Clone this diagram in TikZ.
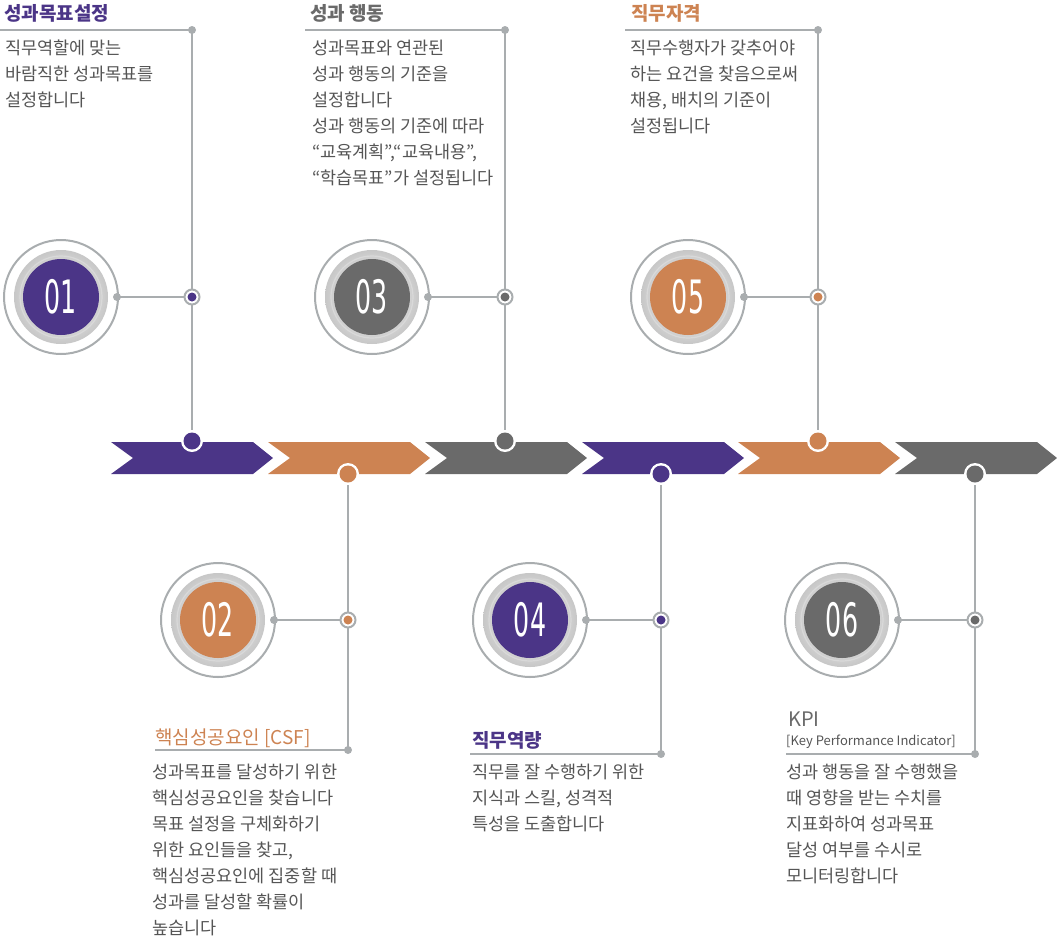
\documentclass[tikz,border=0pt]{standalone}
\usepackage{fontspec}
\setmainfont{Noto Sans CJK KR}
\newfontfamily\numfont{DejaVu Sans}
\definecolor{pur}{HTML}{4B3587}
\definecolor{ora}{HTML}{CD8352}
\definecolor{gry}{HTML}{6A6A6A}
\definecolor{lin}{HTML}{A9ADAF}
\definecolor{txt}{HTML}{555555}
\newcommand\milestone[5]{%
  \draw[lin,line width=2pt,fill=white] (#2,#3) circle (57);
  \shade[inner color=white,outer color=black!22] (#2,#3) circle (47);
  \draw[white!85!black,line width=1.2pt] (#2,#3) circle (41);
  \node[num,fill=#4] (#1) at (#2,#3) {\scalebox{0.55}[1]{#5}};
  \fill[lin] (#2+56,#3) circle (4);
  \coordinate (#1e) at (#2+56,#3);
}
\begin{document}
\begin{tikzpicture}[x=1pt,y=-1pt,
  conn/.style={draw=lin,line width=2.2pt},
  body/.style={anchor=north west,align=left,inner sep=0,text=txt,font=\fontsize{17.5}{26}\selectfont},
  ttl/.style={anchor=west,inner sep=0,font=\fontsize{19}{22}\selectfont\bfseries},
  num/.style={circle,minimum size=76pt,inner sep=0,text=white,font=\numfont\fontsize{46}{46}\selectfont},
]
\useasboundingbox (0,0) rectangle (1057,946);
\foreach \x/\c in {111/pur,268/ora,425/gry,582/pur,738/ora,895/gry}
  \fill[\c] (\x,442) -- ++(142,0) -- ++(20,16) -- ++(-20,16) -- ++(-142,0) -- ++(22,-16) -- cycle;
\milestone{m1}{61}{297}{pur}{01}
\milestone{m3}{372}{297}{gry}{03}
\milestone{m5}{688}{297}{ora}{05}
\milestone{m2}{218}{620}{ora}{02}
\milestone{m4}{530}{620}{pur}{04}
\milestone{m6}{842}{620}{gry}{06}
\foreach \n/\x/\y in {r1/192/297,r3/505/297,r5/818/297,r2/348/620,r4/661/620,r6/975/620}
  \coordinate (\n) at (\x,\y);
\coordinate (b1) at (192,441); \coordinate (b3) at (505,441); \coordinate (b5) at (818,441);
\coordinate (b2) at (348,474); \coordinate (b4) at (661,474); \coordinate (b6) at (975,474);
\coordinate (h1) at (0,30); \coordinate (t1) at (192,30);
\coordinate (h3) at (305,30); \coordinate (t3) at (505,30);
\coordinate (h5) at (625,30); \coordinate (t5) at (818,30);
\coordinate (h2) at (155,750); \coordinate (t2) at (348,750);
\coordinate (h4) at (470,754); \coordinate (t4) at (661,754);
\coordinate (h6) at (786,754); \coordinate (t6) at (975,754);
\foreach \i in {1,...,6}{
  \draw[conn] (h\i) -- (t\i) -- (b\i);
  \draw[conn] (m\i e) -- (r\i);
  \fill[lin] (t\i) circle (4);
}
\foreach \i/\c in {1/pur,3/gry,5/ora,2/ora,4/pur,6/gry}{
  \draw[lin,line width=2pt,fill=white] (r\i) circle (7.5);
  \fill[\c] (r\i) circle (4.5);
  \fill[white] (b\i) circle (11);
  \fill[\c] (b\i) circle (8.5);
}
\node[ttl,text=pur] (T1) at (4,13) {성과목표설정};
\node[body] (B1) at (5,40) {직무역할에 맞는\\바람직한 성과목표를\\설정합니다};
\node[ttl,text=gry] (T3) at (310,13) {성과 행동};
\node[body] (B3) at (312,40) {성과목표와 연관된\\성과 행동의 기준을\\설정합니다\\성과 행동의 기준에 따라\\“교육계획”,“교육내용”,\\“학습목표”가 설정됩니다};
\node[ttl,text=ora] (T5) at (631,13) {직무자격};
\node[body] (B5) at (630,40) {직무수행자가 갖추어야\\하는 요건을 찾음으로써\\채용, 배치의 기준이\\설정됩니다};
\node[ttl,text=ora,font=\fontsize{19}{22}\selectfont] (T2) at (155,738) {핵심성공요인 [CSF]};
\node[body] (B2) at (152,764) {성과목표를 달성하기 위한\\핵심성공요인을 찾습니다\\목표 설정을 구체화하기\\위한 요인들을 찾고,\\핵심성공요인에 집중할 때\\성과를 달성할 확률이\\높습니다};
\node[ttl,text=pur] (T4) at (472,740) {직무역량};
\node[body] (B4) at (472,764) {직무를 잘 수행하기 위한\\지식과 스킬, 성격적\\특성을 도출합니다};
\node[ttl,text=gry,font=\fontsize{20}{22}\selectfont] (T6) at (788,719) {KPI};
\node[anchor=west,inner sep=0,text=txt,font=\fontsize{13}{14}\selectfont] (S6) at (786,742) {[Key Performance Indicator]};
\node[body] (B6) at (786,764) {성과 행동을 잘 수행했을\\때 영향을 받는 수치를\\지표화하여 성과목표\\달성 여부를 수시로\\모니터링합니다};
\end{tikzpicture}
\end{document}
